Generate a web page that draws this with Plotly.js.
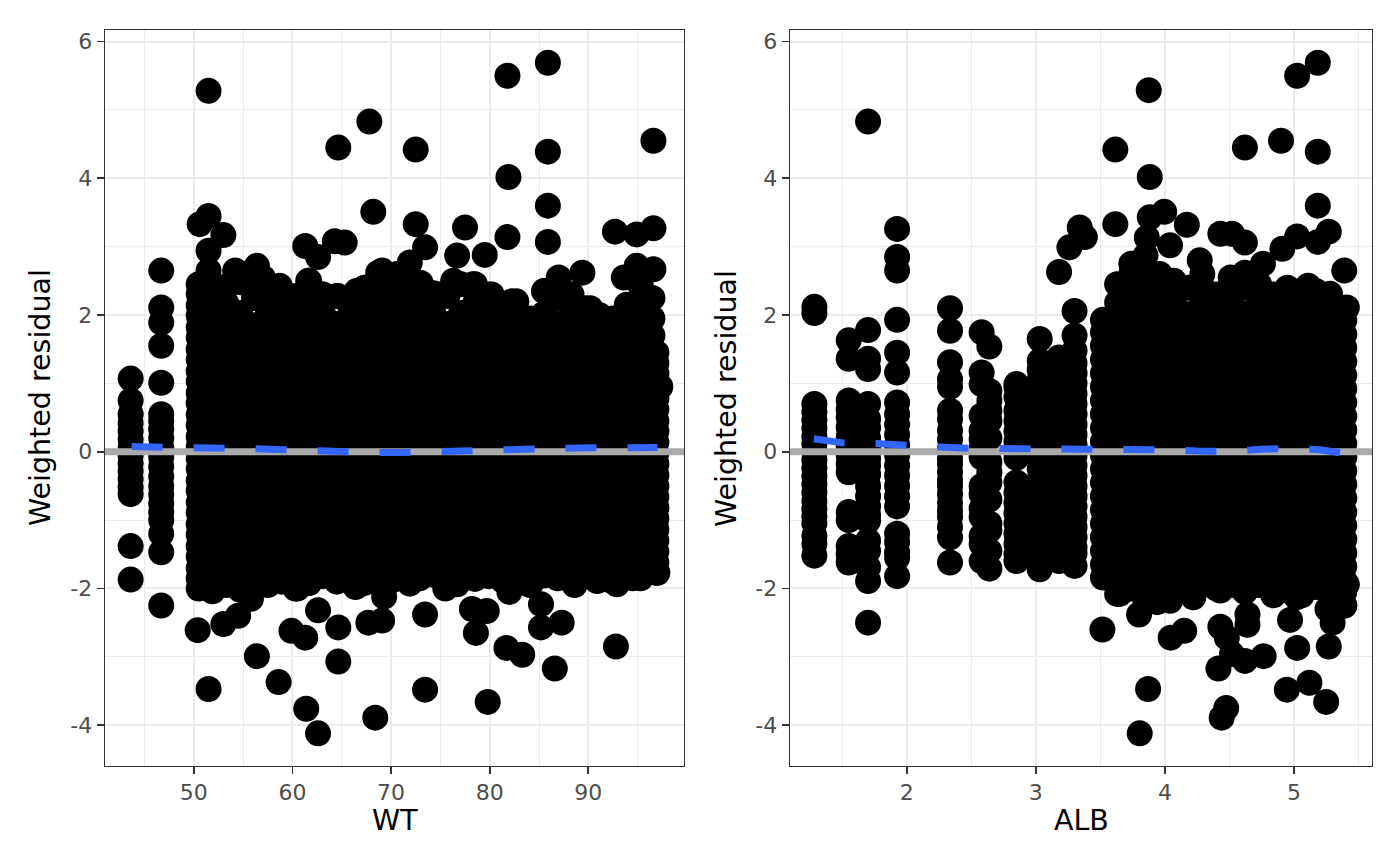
<!DOCTYPE html>
<html>
<head>
<meta charset="utf-8">
<script src="https://cdn.plot.ly/plotly-3.0.1.min.js"></script>
<style>
html,body{margin:0;padding:0;background:#fff;}
#chart{width:1400px;height:866px;}
</style>
</head>
<body>
<div id="chart"></div>
<script>
// ---------------- Left panel: residual vs WT ----------------
const wtCol = [43.6, 46.7, 50.5, 51.9, 53.3, 54.7, 56.1, 57.5, 58.9, 60.3, 61.7, 63.1, 64.5, 65.9, 67.3, 68.7, 70.1, 71.5, 72.9, 74.3, 75.7, 77.1, 78.5, 79.9, 81.3, 82.7, 84.1, 85.5, 86.9, 88.3, 89.7, 91.1, 92.5, 93.9, 95.3, 96.9];
const wtColRes = [
  [1.07, 0.75, 0.55, 0.42, 0.3, 0.18, 0.06, -0.06, -0.17, -0.28, -0.4, -0.52, -0.62, -1.38, -1.87],
  [2.65, 2.11, 1.89, 1.55, 1.01, 0.55, 0.45, 0.33, 0.2, 0.06, -0.08, -0.22, -0.36, -0.5, -0.63, -0.76, -0.88, -1.0, -1.2, -1.47, -2.25],
  [2.45, 2.31, 2.14, 1.99, 1.82, 1.67, 1.5, 1.35, 1.18, 1.03, 0.86, 0.71, 0.54, 0.39, 0.22, 0.07, -0.1, -0.25, -0.42, -0.57, -0.74, -0.89, -1.06, -1.21, -1.38, -1.53, -1.7, -1.85, -2.0],
  [2.3, 2.02, 1.71, 1.37, 1.07, 0.73, 0.43, 0.09, -0.21, -0.55, -0.85, -1.19, -1.49, -1.83, -2.04],
  [2.42, 2.17, 1.87, 1.53, 1.23, 0.89, 0.59, 0.25, -0.05, -0.39, -0.69, -1.03, -1.33, -1.67, -1.95],
  [2.48, 2.03, 1.69, 1.39, 1.05, 0.75, 0.41, 0.11, -0.23, -0.53, -0.87, -1.17, -1.51, -1.81, -2.02],
  [2.25, 1.85, 1.55, 1.21, 0.91, 0.57, 0.27, -0.07, -0.37, -0.71, -1.01, -1.35, -1.65, -1.9],
  [2.35, 2.01, 1.69, 1.39, 1.05, 0.73, 0.41, 0.11, -0.21, -0.55, -0.87, -1.17, -1.51, -1.82, -1.95],
  [2.2, 1.87, 1.53, 1.23, 0.89, 0.59, 0.25, -0.05, -0.39, -0.69, -1.03, -1.33, -1.67, -1.9],
  [2.28, 2.0, 1.71, 1.37, 1.07, 0.73, 0.43, 0.09, -0.21, -0.53, -0.87, -1.19, -1.49, -1.83, -2.0],
  [2.5, 2.18, 1.86, 1.54, 1.22, 0.9, 0.58, 0.26, -0.06, -0.38, -0.7, -1.02, -1.34, -1.66, -1.92],
  [2.3, 2.02, 1.7, 1.38, 1.06, 0.74, 0.42, 0.1, -0.22, -0.54, -0.86, -1.18, -1.5, -1.82],
  [2.28, 1.87, 1.55, 1.21, 0.91, 0.57, 0.27, -0.07, -0.37, -0.71, -1.01, -1.35, -1.65, -1.9],
  [2.1, 1.9, 1.69, 1.39, 1.05, 0.73, 0.41, 0.11, -0.21, -0.55, -0.87, -1.17, -1.51, -1.82],
  [2.4, 2.15, 1.86, 1.54, 1.22, 0.9, 0.58, 0.26, -0.06, -0.38, -0.7, -1.02, -1.34, -1.66, -1.92],
  [2.62, 2.15, 2.03, 1.71, 1.37, 1.07, 0.73, 0.43, 0.09, -0.21, -0.53, -0.87, -1.19, -1.49, -1.81],
  [2.45, 2.17, 1.87, 1.53, 1.23, 0.89, 0.59, 0.25, -0.05, -0.39, -0.69, -1.03, -1.33, -1.67, -1.88],
  [2.3, 2.01, 1.69, 1.39, 1.05, 0.73, 0.41, 0.11, -0.21, -0.55, -0.87, -1.17, -1.51, -1.8],
  [2.47, 2.18, 1.86, 1.54, 1.22, 0.9, 0.58, 0.26, -0.06, -0.38, -0.7, -1.02, -1.34, -1.66, -1.85],
  [2.32, 2.02, 1.7, 1.38, 1.06, 0.74, 0.42, 0.1, -0.22, -0.54, -0.86, -1.18, -1.5, -1.8],
  [2.28, 1.87, 1.55, 1.21, 0.91, 0.57, 0.27, -0.07, -0.37, -0.71, -1.01, -1.35, -1.65, -1.85],
  [2.45, 2.03, 1.71, 1.37, 1.07, 0.73, 0.43, 0.09, -0.21, -0.53, -0.87, -1.19, -1.49, -1.81],
  [2.45, 2.17, 1.86, 1.54, 1.22, 0.9, 0.58, 0.26, -0.06, -0.38, -0.7, -1.02, -1.34, -1.66, -1.86],
  [2.3, 2.01, 1.69, 1.39, 1.05, 0.73, 0.41, 0.11, -0.21, -0.55, -0.87, -1.17, -1.51, -1.82],
  [2.15, 1.87, 1.53, 1.23, 0.89, 0.59, 0.25, -0.05, -0.39, -0.69, -1.03, -1.33, -1.67, -1.88],
  [2.2, 2.02, 1.7, 1.38, 1.06, 0.74, 0.42, 0.1, -0.22, -0.54, -0.86, -1.18, -1.5, -1.82],
  [1.95, 1.86, 1.54, 1.22, 0.9, 0.58, 0.26, -0.06, -0.38, -0.7, -1.02, -1.34, -1.66, -1.95],
  [2.35, 2.02, 1.71, 1.37, 1.07, 0.73, 0.43, 0.09, -0.21, -0.53, -0.87, -1.19, -1.49, -1.81],
  [2.25, 1.87, 1.55, 1.21, 0.91, 0.57, 0.27, -0.07, -0.37, -0.71, -1.01, -1.35, -1.65, -1.85],
  [2.3, 2.01, 1.69, 1.39, 1.05, 0.73, 0.41, 0.11, -0.21, -0.55, -0.87, -1.17, -1.51, -1.8],
  [2.1, 1.86, 1.54, 1.22, 0.9, 0.58, 0.26, -0.06, -0.38, -0.7, -1.02, -1.34, -1.66, -1.8],
  [2.0, 1.7, 1.38, 1.06, 0.74, 0.42, 0.1, -0.22, -0.54, -0.86, -1.18, -1.5, -1.78],
  [1.95, 1.87, 1.53, 1.23, 0.89, 0.59, 0.25, -0.05, -0.39, -0.69, -1.03, -1.33, -1.67, -1.9],
  [2.15, 2.0, 1.71, 1.37, 1.07, 0.73, 0.43, 0.09, -0.21, -0.53, -0.87, -1.19, -1.49, -1.81],
  [2.45, 2.18, 1.86, 1.54, 1.22, 0.9, 0.58, 0.26, -0.06, -0.38, -0.7, -1.02, -1.34, -1.66, -1.85],
  [1.45, 1.3, 1.15, 0.95, 0.78, 0.62, 0.45, 0.3, 0.14, -0.02, -0.18, -0.34, -0.5, -0.66, -0.82, -0.98, -1.14, -1.3, -1.46, -1.62, -1.77]
];
const wtOutX = [51.5, 67.8, 64.65, 72.5, 68.2, 72.5, 51.5, 50.6, 53.0, 51.5, 61.3, 64.3, 65.3, 62.6, 51.5, 54.2, 56.4, 58.7, 69.1, 68.0, 70.6, 71.9,
  81.8, 85.9, 85.9, 96.6, 81.9, 85.9, 77.5, 73.45, 81.8, 85.9, 76.7, 79.5, 92.7, 94.9, 96.6, 89.4, 87.0, 94.9, 96.6, 93.6,
  55.1, 57.0, 61.6, 63.0, 64.6, 66.5, 70.0, 73.0, 74.8, 76.3, 78.3, 80.2, 82.2, 85.6, 88.2, 90.2, 95.2, 96.5, 96.5, 96.5, 97.3,
  50.4, 53.0, 54.5, 51.5, 56.4, 58.6, 59.9, 61.3, 62.6, 64.65, 64.65, 61.4, 62.6, 68.4, 67.7, 69.1, 69.3, 73.45, 73.45, 78.6, 78.2,
  79.7, 79.8, 81.7, 83.3, 86.6, 85.2, 85.2, 87.3, 92.8, 76.7, 71.9, 90.9, 92.9, 97.0,
  55.8, 60.5, 66.4, 75.5, 82.0, 88.6, 94.5];
const wtOutY = [5.28, 4.83, 4.45, 4.42, 3.51, 3.33, 3.45, 3.33, 3.17, 2.94, 3.01, 3.08, 3.06, 2.85, 2.65, 2.65, 2.72, 2.43, 2.65, 2.43, 2.6, 2.77,
  5.5, 5.69, 4.39, 4.55, 4.02, 3.6, 3.28, 2.99, 3.14, 3.07, 2.87, 2.88, 3.22, 3.18, 3.27, 2.62, 2.55, 2.72, 2.67, 2.55,
  2.6, 2.55, 2.5, 2.3, 2.28, 2.35, 2.45, 2.47, 2.3, 2.5, 2.45, 2.3, 2.2, 2.35, 2.3, 2.1, 2.45, 2.25, 1.95, 1.7, 0.95,
  -2.61, -2.52, -2.4, -3.47, -2.99, -3.37, -2.62, -2.72, -2.32, -2.57, -3.07, -3.76, -4.12, -3.89, -2.5, -2.47, -2.12, -2.38, -3.48, -2.65, -2.3,
  -2.33, -3.66, -2.87, -2.97, -3.17, -2.23, -2.57, -2.5, -2.85, -1.94, -1.93, -1.89, -1.94, -1.77,
  -2.15, -2.0, -1.98, -2.0, -2.05, -1.95, -1.85];
const wtSmoothX = [43.7, 47, 50, 53, 56, 59, 62, 65, 68, 71, 74, 77, 80, 83, 86, 89, 92, 95, 97];
const wtSmoothY = [0.075, 0.072, 0.066, 0.06, 0.045, 0.03, 0.01, -0.005, -0.012, -0.01, 0.005, 0.02, 0.035, 0.045, 0.05, 0.055, 0.058, 0.06, 0.062];

// ---------------- Right panel: residual vs ALB ----------------
const albCol = [1.284, 1.55, 1.70, 1.925, 2.335, 2.58, 2.64, 2.85, 3.03, 3.18, 3.30, 3.52, 3.63, 3.74, 3.85, 3.96, 4.07, 4.18, 4.29, 4.40, 4.51, 4.62, 4.73, 4.84, 4.95, 5.06, 5.17, 5.28, 5.39];
const albColRes = [
  [2.12, 2.03, 0.70, 0.58, 0.46, 0.34, 0.22, 0.12, 0.0, -0.12, -0.24, -0.36, -0.48, -0.6, -0.72, -0.84, -0.95, -1.05, -1.23, -1.35, -1.52],
  [1.63, 1.36, 0.75, 0.62, 0.5, 0.36, 0.22, 0.08, -0.05, -0.18, -0.3, -0.88, -1.0, -1.38, -1.5, -1.62],
  [4.83, 1.78, 1.36, 1.21, 0.7, 0.48, 0.35, 0.2, 0.05, -0.1, -0.2, -0.33, -0.5, -0.65, -0.8, -0.92, -1.01, -1.3, -1.45, -1.69, -1.89, -2.5],
  [3.26, 2.85, 2.65, 1.93, 1.45, 1.16, 0.72, 0.55, 0.4, 0.25, 0.1, -0.05, -0.2, -0.35, -0.5, -0.65, -0.8, -1.2, -1.32, -1.47, -1.55, -1.82],
  [2.1, 1.77, 1.31, 1.06, 0.95, 0.6, 0.48, 0.31, 0.18, 0.05, -0.1, -0.18, -0.3, -0.42, -0.5, -0.62, -0.75, -0.86, -0.95, -1.1, -1.25, -1.62],
  [1.75, 1.16, 0.99, 0.53, 0.31, 0.18, 0.05, -0.08, -0.5, -0.62, -0.83, -0.95, -1.23, -1.35, -1.6],
  [1.54, 0.89, 0.75, 0.6, 0.45, 0.2, -0.15, -0.3, -0.45, -0.7, -1.05, -1.15, -1.45, -1.71],
  [0.99, 0.94, 0.8, 0.6, 0.45, 0.3, 0.15, 0.0, -0.09, -0.45, -0.6, -0.75, -0.9, -1.05, -1.2, -1.35, -1.5, -1.6],
  [1.65, 1.33, 1.2, 1.05, 0.9, 0.8, 0.65, 0.5, 0.35, 0.2, 0.05, -0.1, -0.25, -0.4, -0.55, -0.7, -0.85, -1.0, -1.15, -1.3, -1.45, -1.55, -1.72],
  [2.63, 1.38, 1.25, 1.1, 0.95, 0.8, 0.65, 0.5, 0.35, 0.2, 0.05, -0.1, -0.25, -0.4, -0.55, -0.7, -0.85, -1.0, -1.15, -1.3, -1.45, -1.6],
  [2.06, 1.70, 1.48, 1.3, 1.15, 1.0, 0.85, 0.7, 0.55, 0.4, 0.25, 0.1, -0.05, -0.2, -0.35, -0.5, -0.65, -0.8, -0.95, -1.1, -1.25, -1.4, -1.49, -1.67],
  [1.93, 1.75, 1.55, 1.35, 1.15, 0.95, 0.75, 0.55, 0.35, 0.15, -0.05, -0.25, -0.45, -0.65, -0.85, -1.05, -1.25, -1.45, -1.65, -1.84],
  [2.45, 2.18, 1.86, 1.54, 1.22, 0.9, 0.58, 0.26, -0.06, -0.38, -0.7, -1.02, -1.34, -1.66, -1.9, -2.08],
  [2.75, 2.6, 2.33, 2.02, 1.7, 1.38, 1.06, 0.74, 0.42, 0.1, -0.22, -0.54, -0.86, -1.18, -1.5, -1.82, -2.0],
  [2.87, 2.62, 2.46, 2.18, 1.86, 1.54, 1.22, 0.9, 0.58, 0.26, -0.06, -0.38, -0.7, -1.02, -1.34, -1.66, -1.98, -2.2],
  [2.6, 2.35, 2.02, 1.7, 1.38, 1.06, 0.74, 0.42, 0.1, -0.22, -0.54, -0.86, -1.18, -1.5, -1.82, -2.05],
  [2.5, 2.18, 1.87, 1.53, 1.23, 0.89, 0.59, 0.25, -0.05, -0.39, -0.69, -1.03, -1.33, -1.67, -1.95],
  [2.4, 2.01, 1.69, 1.39, 1.05, 0.73, 0.41, 0.11, -0.21, -0.55, -0.87, -1.17, -1.51, -1.82, -2.0],
  [2.6, 2.4, 2.17, 1.86, 1.55, 1.21, 0.91, 0.57, 0.27, -0.07, -0.37, -0.71, -1.01, -1.35, -1.65, -1.95],
  [2.3, 2.03, 1.71, 1.37, 1.07, 0.73, 0.43, 0.09, -0.21, -0.53, -0.87, -1.19, -1.49, -1.81, -2.0],
  [2.55, 2.35, 2.18, 1.86, 1.54, 1.22, 0.9, 0.58, 0.26, -0.06, -0.38, -0.7, -1.02, -1.34, -1.66, -1.95],
  [2.62, 2.4, 2.02, 1.7, 1.38, 1.06, 0.74, 0.42, 0.1, -0.22, -0.54, -0.86, -1.18, -1.5, -1.82, -2.05],
  [2.45, 2.17, 1.87, 1.53, 1.23, 0.89, 0.59, 0.25, -0.05, -0.39, -0.69, -1.03, -1.33, -1.67, -1.95],
  [2.3, 2.01, 1.69, 1.39, 1.05, 0.73, 0.41, 0.11, -0.21, -0.55, -0.87, -1.17, -1.51, -1.82, -2.1],
  [2.4, 2.18, 1.86, 1.54, 1.22, 0.9, 0.58, 0.26, -0.06, -0.38, -0.7, -1.02, -1.34, -1.66, -1.98],
  [2.25, 2.02, 1.7, 1.38, 1.06, 0.74, 0.42, 0.1, -0.22, -0.54, -0.86, -1.18, -1.5, -1.82, -2.1],
  [2.35, 2.17, 1.87, 1.53, 1.23, 0.89, 0.59, 0.25, -0.05, -0.39, -0.69, -1.03, -1.33, -1.67, -1.98],
  [2.2, 2.03, 1.71, 1.37, 1.07, 0.73, 0.43, 0.09, -0.21, -0.53, -0.87, -1.19, -1.49, -1.81, -2.1],
  [2.1, 1.92, 1.72, 1.52, 1.32, 1.12, 0.92, 0.72, 0.52, 0.32, 0.12, -0.08, -0.28, -0.48, -0.68, -0.88, -1.08, -1.28, -1.48, -1.68, -1.88, -2.05, -2.25]
];
const albOutX = [3.875, 5.025, 5.185, 3.616, 3.883, 4.62, 4.90, 5.185, 5.185, 3.616, 3.883, 3.995, 4.17, 3.34, 3.38, 3.26, 4.43, 4.52, 4.62, 5.025, 5.185, 5.27, 4.91, 4.04, 3.86, 5.39, 4.27, 4.76, 5.11, 5.28, 5.41,
  3.516, 3.87, 3.805, 4.045, 4.15, 4.43, 4.48, 4.64, 4.64, 4.52, 4.415, 4.62, 4.765, 4.475, 4.44, 4.97, 5.025, 4.945, 5.12, 5.25, 5.27, 5.30, 5.39,
  3.65, 3.8, 3.94, 4.04, 4.22, 4.43, 4.9, 5.02, 5.26, 5.41];
const albOutY = [5.29, 5.5, 5.69, 4.42, 4.02, 4.45, 4.55, 4.39, 3.60, 3.33, 3.43, 3.51, 3.32, 3.28, 3.14, 2.99, 3.19, 3.19, 3.06, 3.15, 3.07, 3.22, 2.97, 3.02, 3.13, 2.65, 2.8, 2.75, 2.43, 2.31, 2.11,
  -2.6, -3.47, -4.12, -2.72, -2.62, -2.56, -2.72, -2.38, -2.53, -2.96, -3.17, -3.06, -2.99, -3.75, -3.89, -2.46, -2.87, -3.48, -3.38, -3.66, -2.85, -2.5, -2.25,
  -2.08, -2.38, -2.2, -2.18, -2.13, -2.03, -2.03, -2.13, -2.3, -1.94];
const albSmoothX = [1.28, 1.5, 1.75, 2.0, 2.25, 2.5, 2.75, 3.0, 3.25, 3.5, 3.75, 4.0, 4.25, 4.5, 4.75, 5.0, 5.2, 5.4];
const albSmoothY = [0.19, 0.13, 0.12, 0.085, 0.07, 0.05, 0.05, 0.04, 0.036, 0.034, 0.034, 0.03, 0.012, 0.005, 0.035, 0.05, 0.03, -0.025];

// ---------------- Axis setup ----------------
const wtRange = [41.0, 99.7];
const albRange = [1.095, 5.605];
const resRange = [-4.59, 6.17];
const wtTicks = [50, 60, 70, 80, 90];
const wtMinor = [45, 55, 65, 75, 85, 95];
const albTicks = [2, 3, 4, 5];
const albMinor = [1.5, 2.5, 3.5, 4.5, 5.5];
const resTicks = [-4, -2, 0, 2, 4, 6];
const resTickText = ['-4', '-2', '0', '2', '4', '6'];
const resMinor = [-3, -1, 1, 3, 5];
const hlineY = 0;

function flatten(cols, res, ox, oy) {
  const x = [], y = [];
  cols.forEach((c, i) => res[i].forEach(v => { x.push(c); y.push(v); }));
  ox.forEach((v, i) => { x.push(v); y.push(oy[i]); });
  return {x, y};
}
const L = flatten(wtCol, wtColRes, wtOutX, wtOutY);
const R = flatten(albCol, albColRes, albOutX, albOutY);

const pointStyle = {color: '#000000', size: 26, line: {width: 0}};
const hStyle = {color: '#aaaaaa', width: 7};
const sStyle = {color: '#3366FF', width: 7, dash: '31px,31px'};

const traces = [
  {type: 'scatter', mode: 'markers', x: L.x, y: L.y, marker: pointStyle, xaxis: 'x', yaxis: 'y', hoverinfo: 'skip'},
  {type: 'scatter', mode: 'lines', x: wtRange, y: [hlineY, hlineY], line: hStyle, xaxis: 'x', yaxis: 'y', hoverinfo: 'skip'},
  {type: 'scatter', mode: 'lines', x: wtSmoothX, y: wtSmoothY, line: sStyle, line_shape: 'spline', xaxis: 'x', yaxis: 'y', hoverinfo: 'skip'},
  {type: 'scatter', mode: 'markers', x: R.x, y: R.y, marker: pointStyle, xaxis: 'x2', yaxis: 'y2', hoverinfo: 'skip'},
  {type: 'scatter', mode: 'lines', x: albRange, y: [hlineY, hlineY], line: hStyle, xaxis: 'x2', yaxis: 'y2', hoverinfo: 'skip'},
  {type: 'scatter', mode: 'lines', x: albSmoothX, y: albSmoothY, line: sStyle, xaxis: 'x2', yaxis: 'y2', hoverinfo: 'skip'}
];

const tickFont = {family: 'DejaVu Sans', size: 22, color: '#4d4d4d'};
const titleFont = {family: 'DejaVu Sans', size: 28.5, color: '#000000'};
function axisBase(extra) {
  return Object.assign({
    showline: true, mirror: true, linecolor: '#333333', linewidth: 1.3,
    ticks: 'outside', ticklen: 7, tickwidth: 1.7, tickcolor: '#333333',
    showgrid: true, gridcolor: '#ebebeb', gridwidth: 2,
    zeroline: false, tickfont: tickFont, tickmode: 'array', automargin: false, fixedrange: true
  }, extra);
}
const yDom = [(866 - 765.5) / 866, (866 - 30) / 866];

const layout = {
  width: 1400, height: 866, autosize: false,
  margin: {l: 0, r: 0, t: 0, b: 0},
  paper_bgcolor: '#ffffff', plot_bgcolor: '#ffffff',
  showlegend: false,
  font: {family: 'DejaVu Sans'},
  xaxis: axisBase({domain: [105 / 1400, 684 / 1400], range: wtRange, tickvals: wtTicks, ticktext: wtTicks.map(String), anchor: 'y',
    minor: {tickmode: 'array', tickvals: wtMinor, showgrid: true, gridcolor: '#ebebeb', gridwidth: 1, ticks: ''}}),
  yaxis: axisBase({domain: yDom, range: resRange, tickvals: resTicks, ticktext: resTickText, anchor: 'x',
    minor: {tickmode: 'array', tickvals: resMinor, showgrid: true, gridcolor: '#ebebeb', gridwidth: 1, ticks: ''}}),
  xaxis2: axisBase({domain: [790 / 1400, 1372 / 1400], range: albRange, tickvals: albTicks, ticktext: albTicks.map(String), anchor: 'y2',
    minor: {tickmode: 'array', tickvals: albMinor, showgrid: true, gridcolor: '#ebebeb', gridwidth: 1, ticks: ''}}),
  yaxis2: axisBase({domain: yDom, range: resRange, tickvals: resTicks, ticktext: resTickText, anchor: 'x2',
    minor: {tickmode: 'array', tickvals: resMinor, showgrid: true, gridcolor: '#ebebeb', gridwidth: 1, ticks: ''}}),
  annotations: [
    {text: 'WT', xref: 'paper', yref: 'paper', x: 394.5 / 1400, y: (866 - 820) / 866, xanchor: 'center', yanchor: 'middle', showarrow: false, font: titleFont},
    {text: 'ALB', xref: 'paper', yref: 'paper', x: 1081 / 1400, y: (866 - 820) / 866, xanchor: 'center', yanchor: 'middle', showarrow: false, font: titleFont},
    {text: 'Weighted residual', xref: 'paper', yref: 'paper', x: 41 / 1400, y: (866 - 398) / 866, xanchor: 'center', yanchor: 'middle', textangle: -90, showarrow: false, font: titleFont},
    {text: 'Weighted residual', xref: 'paper', yref: 'paper', x: 727 / 1400, y: (866 - 398) / 866, xanchor: 'center', yanchor: 'middle', textangle: -90, showarrow: false, font: titleFont}
  ]
};

Plotly.newPlot('chart', traces, layout, {staticPlot: true, displayModeBar: false});
</script>
</body>
</html>
